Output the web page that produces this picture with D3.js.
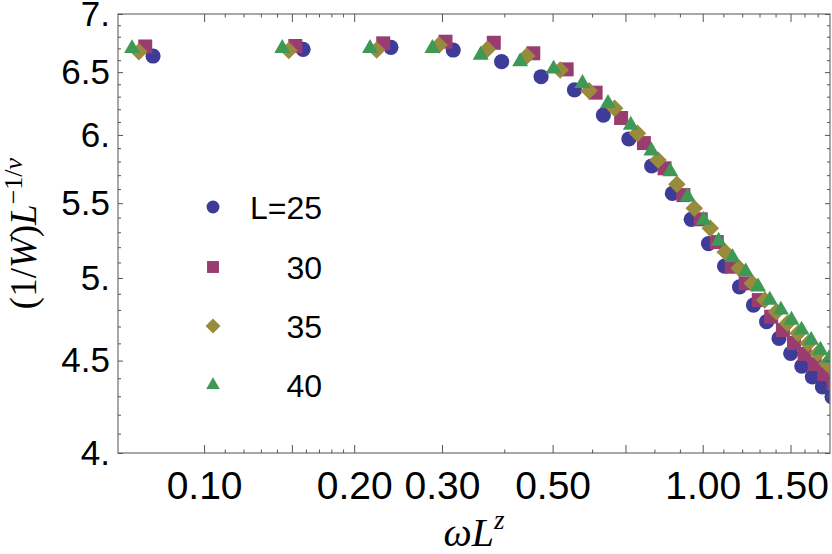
<!DOCTYPE html>
<html>
<head>
<meta charset="utf-8">
<script src="https://cdn.jsdelivr.net/npm/d3@7"></script>
<style>
  html, body { margin: 0; padding: 0; background: #fff; }
  svg { display: block; }
</style>
</head>
<body>
<svg id="chart" width="832" height="554"></svg>
<script>
// ---- data ----
const seriesNames = ["L=25", "30", "35", "40"];
const colors = ["rgb(61,61,153)", "rgb(153,61,113)", "rgb(153,139,61)", "rgb(61,153,84)"];

const xL25 = [0.0790, 0.1580, 0.2370, 0.3160, 0.3951, 0.4741, 0.5531, 0.6321, 0.7111, 0.7901,
              0.8691, 0.9481, 1.0271, 1.1061, 1.1852, 1.2642, 1.3432, 1.4222, 1.5012, 1.5802,
              1.6592, 1.7382, 1.8172];
const yL25 = [6.635, 6.692, 6.709, 6.686, 6.587, 6.462, 6.354, 6.154, 5.969, 5.767,
              5.569, 5.388, 5.224, 5.076, 4.944, 4.830, 4.729, 4.629, 4.542, 4.469,
              4.408, 4.352, 4.297];

const xL30 = [0.0762, 0.1524, 0.2287, 0.3049, 0.3811, 0.4573, 0.5335, 0.6098, 0.6860, 0.7622,
              0.8384, 0.9146, 0.9909, 1.0671, 1.1433, 1.2195, 1.2957, 1.3720, 1.4482, 1.5244,
              1.6006, 1.6768, 1.7531, 1.8293];
const yL30 = [6.716, 6.720, 6.743, 6.757, 6.748, 6.658, 6.523, 6.332, 6.131, 5.938,
              5.750, 5.557, 5.388, 5.234, 5.072, 4.966, 4.861, 4.759, 4.679, 4.602,
              4.538, 4.480, 4.423, 4.373];

const xL35 = [0.0740, 0.1479, 0.2219, 0.2959, 0.3699, 0.4438, 0.5178, 0.5918, 0.6657, 0.7397,
              0.8137, 0.8876, 0.9616, 1.0356, 1.1096, 1.1835, 1.2575, 1.3315, 1.4054, 1.4794,
              1.5534, 1.6273, 1.7013, 1.7753, 1.8493];
const yL35 = [6.671, 6.682, 6.686, 6.729, 6.692, 6.635, 6.518, 6.348, 6.207, 6.012,
              5.811, 5.634, 5.464, 5.327, 5.168, 5.062, 4.966, 4.861, 4.789, 4.719,
              4.659, 4.600, 4.542, 4.484, 4.435];

const xL40 = [0.0717, 0.1435, 0.2152, 0.2870, 0.3587, 0.4304, 0.5022, 0.5739, 0.6457, 0.7174,
              0.7891, 0.8609, 0.9326, 1.0044, 1.0761, 1.1478, 1.2196, 1.2913, 1.3631, 1.4348,
              1.5065, 1.5783, 1.6500, 1.7218, 1.7935];
const yL40 = [6.699, 6.700, 6.700, 6.700, 6.643, 6.587, 6.526, 6.408, 6.247, 6.076,
              5.880, 5.725, 5.545, 5.383, 5.241, 5.132, 5.040, 4.944, 4.861, 4.800,
              4.739, 4.679, 4.619, 4.561, 4.513];

const xMajorTicks = [0.1, 0.15, 0.2, 0.3, 0.5, 0.7, 1.0, 1.5];
const xLabelTicks = [0.1, 0.2, 0.3, 0.5, 1.0, 1.5];
const xLabels = ["0.10", "0.20", "0.30", "0.50", "1.00", "1.50"];
const xMinorTicks = [0.11, 0.12, 0.13, 0.14, 0.16, 0.17, 0.18, 0.19, 0.4, 0.6, 0.8, 0.9,
                     1.1, 1.2, 1.3, 1.4, 1.6, 1.7];
const yMajorTicks = [4, 4.5, 5, 5.5, 6, 6.5, 7];
const yLabels = ["4.", "4.5", "5.", "5.5", "6.", "6.5", "7."];

// ---- layout ----
const svg = d3.select("#chart");
const L = 118, R = 830, T = 14, B = 453;

const x = d3.scaleLog().domain([0.0672, 1.80]).range([L, R]);
const y = d3.scaleLog().domain([4, 7]).range([B, T]);

const yMinorTicks = d3.range(41, 70).map(v => v / 10).filter(v => Math.abs(v * 2 - Math.round(v * 2)) > 1e-6);

// clip
svg.append("defs").append("clipPath").attr("id", "clip")
  .append("rect").attr("x", L).attr("y", T).attr("width", R - L).attr("height", B - T);

// ---- data markers ----
const series = [
  { xs: xL25, ys: yL25, shape: "circle" },
  { xs: xL30, ys: yL30, shape: "square" },
  { xs: xL35, ys: yL35, shape: "diamond" },
  { xs: xL40, ys: yL40, shape: "triangle" }
];

function symPath(shape, scale) {
  const s = scale || 1;
  if (shape === "circle") return d3.symbol(d3.symbolCircle, Math.PI * Math.pow(7.6 * s, 2))();
  if (shape === "square") return d3.symbol(d3.symbolSquare, Math.pow(14 * s, 2))();
  if (shape === "diamond") return d3.symbol(d3.symbolSquare, Math.pow(12.4 * s, 2))();
  return d3.symbol(d3.symbolTriangle, Math.sqrt(3) / 4 * Math.pow(16 * s, 2))();
}

const plot = svg.append("g").attr("clip-path", "url(#clip)");
series.forEach((s, i) => {
  const pts = s.xs.map((xv, j) => [xv, s.ys[j]]);
  plot.append("g").selectAll("path").data(pts).join("path")
    .attr("d", symPath(s.shape))
    .attr("transform", d => `translate(${x(d[0])},${y(d[1])})` + (s.shape === "diamond" ? " rotate(45)" : ""))
    .attr("fill", colors[i]);
});

// ---- frame & axes ----
svg.append("rect").attr("x", L).attr("y", T).attr("width", R - L).attr("height", B - T)
  .attr("fill", "none").attr("stroke", "#7a7a7a").attr("stroke-width", 1.3);

const tickColor = "#555";
function styleAxis(g) {
  g.select(".domain").remove();
  g.selectAll(".tick line").attr("stroke", tickColor).attr("stroke-width", 1);
}

// bottom
svg.append("g").attr("transform", `translate(0,${B})`)
  .call(d3.axisBottom(x).tickValues(xMajorTicks).tickSize(-8).tickFormat(""))
  .call(styleAxis);
svg.append("g").attr("transform", `translate(0,${B})`)
  .call(d3.axisBottom(x).tickValues(xMinorTicks).tickSize(-3.5).tickFormat(""))
  .call(styleAxis);
svg.append("g").attr("transform", `translate(0,${B})`)
  .call(d3.axisBottom(x).tickValues(xLabelTicks).tickSize(0).tickPadding(18)
    .tickFormat((d, i) => xLabels[i]))
  .call(g => g.select(".domain").remove())
  .call(g => g.selectAll("text").attr("font-family", "Liberation Sans, Arial, sans-serif")
    .attr("font-size", 39).attr("fill", "#000"));

// top
svg.append("g").attr("transform", `translate(0,${T})`)
  .call(d3.axisTop(x).tickValues(xMajorTicks).tickSize(-8).tickFormat(""))
  .call(styleAxis);
svg.append("g").attr("transform", `translate(0,${T})`)
  .call(d3.axisTop(x).tickValues(xMinorTicks).tickSize(-3.5).tickFormat(""))
  .call(styleAxis);

// left
svg.append("g").attr("transform", `translate(${L},0)`)
  .call(d3.axisLeft(y).tickValues(yMajorTicks).tickSize(-5).tickPadding(8)
    .tickFormat((d, i) => yLabels[i]))
  .call(styleAxis)
  .call(g => g.selectAll("text").attr("font-family", "Liberation Sans, Arial, sans-serif")
    .attr("font-size", 35).attr("fill", "#000"));
svg.append("g").attr("transform", `translate(${L},0)`)
  .call(d3.axisLeft(y).tickValues(yMinorTicks).tickSize(-3).tickFormat(""))
  .call(styleAxis);

// right
svg.append("g").attr("transform", `translate(${R},0)`)
  .call(d3.axisRight(y).tickValues(yMajorTicks).tickSize(-5).tickFormat(""))
  .call(styleAxis);
svg.append("g").attr("transform", `translate(${R},0)`)
  .call(d3.axisRight(y).tickValues(yMinorTicks).tickSize(-3).tickFormat(""))
  .call(styleAxis);

// ---- axis titles ----
const serif = "Liberation Serif, Times New Roman, serif";
const xt = svg.append("text").attr("x", (L + R) / 2).attr("y", 546)
  .attr("text-anchor", "middle").attr("font-family", serif).attr("font-size", 40).attr("fill", "#000");
xt.append("tspan").attr("font-style", "italic").text("ω");
xt.append("tspan").attr("font-style", "italic").text("L");
xt.append("tspan").attr("font-style", "italic").attr("font-size", 27).attr("dy", -17).text("z");

const yt = svg.append("text")
  .attr("transform", `translate(36,${(T + B) / 2}) rotate(-90)`)
  .attr("text-anchor", "middle").attr("font-family", serif).attr("font-size", 37).attr("fill", "#000");
yt.append("tspan").text("(1/");
yt.append("tspan").attr("font-style", "italic").text("W");
yt.append("tspan").text(")");
yt.append("tspan").attr("font-style", "italic").text("L");
yt.append("tspan").attr("font-size", 26).attr("dy", -14).text("−1/");
yt.append("tspan").attr("font-size", 26).attr("font-style", "italic").text("ν");

// ---- legend ----
const legY = [207, 267, 326, 385];
const shapes = ["circle", "square", "diamond", "triangle"];
const leg = svg.append("g");
seriesNames.forEach((name, i) => {
  leg.append("path").attr("d", symPath(shapes[i], 0.85))
    .attr("transform", `translate(213,${legY[i]})` + (shapes[i] === "diamond" ? " rotate(45)" : ""))
    .attr("fill", colors[i]);
  leg.append("text").attr("x", 322).attr("y", legY[i] + 11.5).attr("text-anchor", "end")
    .attr("font-family", "Liberation Sans, Arial, sans-serif").attr("font-size", 32).attr("fill", "#000")
    .text(name);
});
</script>
</body>
</html>
